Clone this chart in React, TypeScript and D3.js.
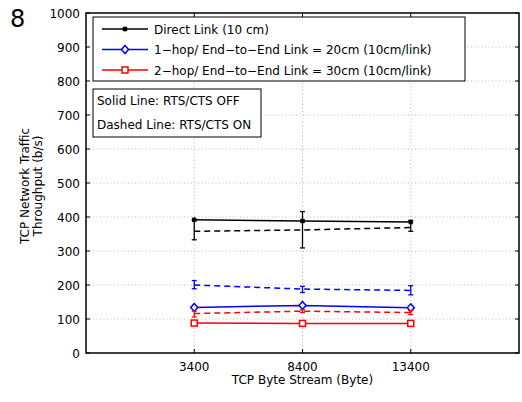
import React from 'react';
import * as d3 from 'd3';

// x categories (byte stream sizes)
const streams = ['3400', '8400', '13400'];
const yTicks = [0, 100, 200, 300, 400, 500, 600, 700, 800, 900, 1000];

// solid = RTS/CTS OFF, dashed = RTS/CTS ON
const directOff = [392, 388, 385];
const directOn = [358, 362, 369];
const directOnLo = [333, 309, 358];
const directOnHi = [390, 416, 390];

const hop1Off = [134, 140, 133];
const hop1On = [200, 188, 184];
const hop1OnLo = [189, 178, 171];
const hop1OnHi = [213, 196, 198];

const hop2Off = [88, 87, 87];
const hop2On = [116, 123, 119];
const hop2OnLo = [106, 119, 113];
const hop2OnHi = [123, 127, 125];

const legendLabels = [
  'Direct Link (10 cm)',
  '1\u2212hop/ End\u2212to\u2212End Link = 20cm (10cm/link)',
  '2\u2212hop/ End\u2212to\u2212End Link = 30cm (10cm/link)',
];
const colors = ['#000000', '#0000ff', '#ff0000'];
const markers = ['star', 'diamond', 'square'];

const font = "'DejaVu Sans', sans-serif";

const Marker = ({ kind, x, y, color }: { kind: string; x: number; y: number; color: string }) => {
  if (kind === 'diamond') {
    return <path d={`M${x},${y - 4}L${x + 3.5},${y}L${x},${y + 4}L${x - 3.5},${y}Z`} fill="white" stroke={color} strokeWidth={1.5} />;
  }
  if (kind === 'square') {
    return <rect x={x - 3} y={y - 3} width={6} height={6} fill="white" stroke={color} strokeWidth={1.5} />;
  }
  return <path d={`M${x - 2.5},${y}H${x + 2.5}M${x},${y - 2.5}V${y + 2.5}M${x - 2},${y - 2}L${x + 2},${y + 2}M${x - 2},${y + 2}L${x + 2},${y - 2}`} stroke={color} strokeWidth={1.3} />;
};

export default function App() {
  const W = 522, H = 402;
  const left = 86, right = 519, top = 13, bottom = 353;

  const x = d3.scaleLinear().domain([0, 4]).range([left, right]);
  const y = d3.scaleLinear().domain([0, 1000]).range([bottom, top]);
  const xi = (i: number) => x(i + 1);

  const line = d3.line<number>().x((_, i) => xi(i)).y(d => y(d));

  const series = [
    { off: directOff, on: directOn, lo: directOnLo, hi: directOnHi },
    { off: hop1Off, on: hop1On, lo: hop1OnLo, hi: hop1OnHi },
    { off: hop2Off, on: hop2On, lo: hop2OnLo, hi: hop2OnHi },
  ];

  return (
    <svg width={W} height={H} style={{ position: 'absolute', left: 0, top: 0 }} fontFamily={font}>
      <rect width={W} height={H} fill="white" />
      <text x={10} y={27} fontSize={24} fill="#000">8</text>

      {/* grid */}
      {yTicks.slice(1, -1).map(t => (
        <line key={'gy' + t} x1={left} x2={right} y1={y(t)} y2={y(t)} stroke="#999" strokeWidth={0.7} strokeDasharray="1,2.5" />
      ))}
      {streams.map((_, i) => (
        <line key={'gx' + i} x1={xi(i)} x2={xi(i)} y1={top} y2={bottom} stroke="#999" strokeWidth={0.7} strokeDasharray="1,2.5" />
      ))}

      {/* ticks */}
      {yTicks.map(t => (
        <g key={'ty' + t}>
          <line x1={left} x2={left + 4} y1={y(t)} y2={y(t)} stroke="#000" />
          <line x1={right - 4} x2={right} y1={y(t)} y2={y(t)} stroke="#000" />
          <text x={left - 6} y={y(t) + 4.5} fontSize={12} textAnchor="end">{t}</text>
        </g>
      ))}
      {streams.map((s, i) => (
        <g key={'tx' + s}>
          <line x1={xi(i)} x2={xi(i)} y1={bottom} y2={bottom - 4} stroke="#000" />
          <line x1={xi(i)} x2={xi(i)} y1={top} y2={top + 4} stroke="#000" />
          <text x={xi(i)} y={bottom + 18} fontSize={12} textAnchor="middle">{s}</text>
        </g>
      ))}

      {/* series */}
      {series.map((s, k) => (
        <g key={'s' + k}>
          <path d={line(s.on) || ''} fill="none" stroke={colors[k]} strokeWidth={1.5} strokeDasharray="6,4" />
          {s.on.map((_, i) => (
            <g key={'e' + i} stroke={colors[k]} strokeWidth={1.3}>
              <line x1={xi(i)} x2={xi(i)} y1={y(s.lo[i])} y2={y(s.hi[i])} />
              <line x1={xi(i) - 2.5} x2={xi(i) + 2.5} y1={y(s.lo[i])} y2={y(s.lo[i])} />
              <line x1={xi(i) - 2.5} x2={xi(i) + 2.5} y1={y(s.hi[i])} y2={y(s.hi[i])} />
            </g>
          ))}
          <path d={line(s.off) || ''} fill="none" stroke={colors[k]} strokeWidth={1.5} />
          {s.off.map((v, i) => (
            <Marker key={'m' + i} kind={markers[k]} x={xi(i)} y={y(v)} color={colors[k]} />
          ))}
        </g>
      ))}

      {/* frame */}
      <rect x={left} y={top} width={right - left} height={bottom - top} fill="none" stroke="#000" strokeWidth={1.5} />

      {/* legend */}
      <rect x={93} y={17} width={372} height={64} fill="white" stroke="#000" strokeWidth={1} />
      {legendLabels.map((l, k) => (
        <g key={'l' + k}>
          <line x1={102} x2={148} y1={29 + k * 20.5} y2={29 + k * 20.5} stroke={colors[k]} strokeWidth={1.5} />
          <Marker kind={markers[k]} x={125} y={29 + k * 20.5} color={colors[k]} />
          <text x={154} y={33.5 + k * 20.5} fontSize={12}>{l}</text>
        </g>
      ))}
      <rect x={93} y={89} width={168} height={48} fill="white" stroke="#000" strokeWidth={1} />
      <text x={97} y={105} fontSize={12}>Solid Line: RTS/CTS OFF</text>
      <text x={97} y={129} fontSize={12}>Dashed Line: RTS/CTS ON</text>

      {/* axis titles */}
      <text x={(left + right) / 2} y={384} fontSize={12} textAnchor="middle">TCP Byte Stream (Byte)</text>
      <g transform="translate(29,186) rotate(-90)">
        <text x={0} y={0} fontSize={12} textAnchor="middle">TCP Network Traffic</text>
        <text x={0} y={13} fontSize={12} textAnchor="middle">Throughput (b/s)</text>
      </g>
    </svg>
  );
}
